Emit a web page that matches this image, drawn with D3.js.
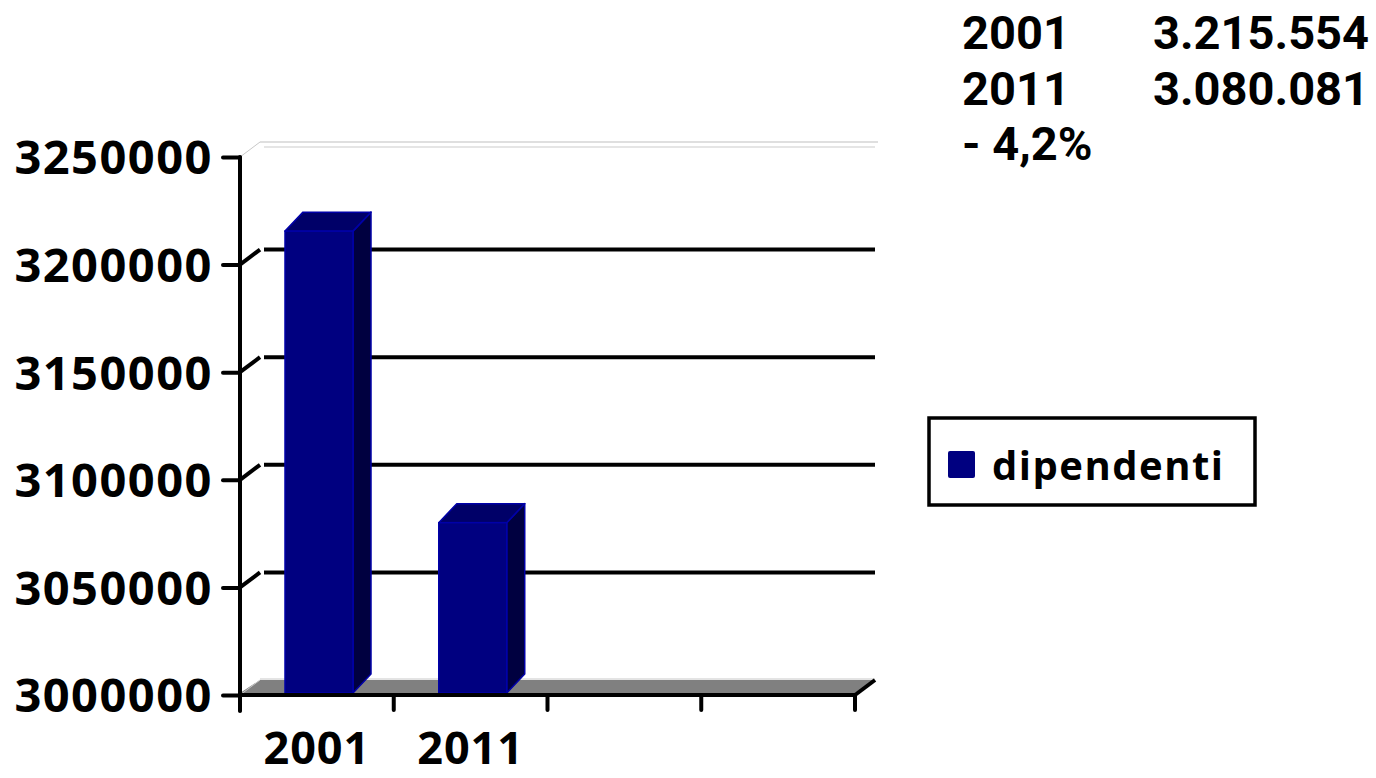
<!DOCTYPE html>
<html>
<head>
<meta charset="utf-8">
<script src="https://cdn.jsdelivr.net/npm/d3@7"></script>
<style>
  body { margin: 0; background: #fff; }
  svg text { font-family: "Open Sans", sans-serif; font-weight: 700; }
</style>
</head>
<body>
<div id="viz"></div>
<script>
// data
const categories = ['2001', '2011', '', ''];
const values = [3215554, 3080081];
const seriesName = 'dipendenti';
const yTicks = [3000000, 3050000, 3100000, 3150000, 3200000, 3250000];
const noteRows = [['2001', '3.215.554'], ['2011', '3.080.081'], ['- 4,2%', '']];

const W = 1376, H = 778;
const DX = 20, DY = -15;       // depth of the walls
const BDX = 18, BDY = -19;     // depth of the bars
const NAVY = '#000080';

const svg = d3.select('#viz').append('svg')
  .attr('width', W)
  .attr('height', H);

const x = d3.scaleBand()
  .domain(d3.range(categories.length))
  .range([240, 855])
  .paddingInner(0)
  .paddingOuter(0);

const y = d3.scaleLinear()
  .domain([yTicks[0], yTicks[yTicks.length - 1]])
  .range([695, 157]);

const x0 = x.range()[0], x1 = x.range()[1];

// floor
svg.append('polygon')
  .attr('points', [[x0, y(yTicks[0]) - 2], [x1, y(yTicks[0]) - 2], [x1 + DX, y(yTicks[0]) + DY], [x0 + DX, y(yTicks[0]) + DY]].join(' '))
  .attr('fill', '#808080');
svg.append('line')
  .attr('x1', x0 + DX).attr('x2', x1 + DX)
  .attr('y1', y(yTicks[0]) + DY - 1).attr('y2', y(yTicks[0]) + DY - 1)
  .attr('stroke', '#c8c8c8').attr('stroke-width', 1);

// back wall top edge
svg.append('line')
  .attr('x1', x0 + DX).attr('x2', x1 + DX + 3)
  .attr('y1', y(yTicks[yTicks.length - 1]) + DY).attr('y2', y(yTicks[yTicks.length - 1]) + DY)
  .attr('stroke', '#d4d4d4').attr('stroke-width', 1.5);
svg.append('line')
  .attr('x1', x0 + DX + 4).attr('x2', x1 + DX)
  .attr('y1', y(yTicks[yTicks.length - 1]) + DY + 5).attr('y2', y(yTicks[yTicks.length - 1]) + DY + 5)
  .attr('stroke', '#dcdcdc').attr('stroke-width', 1.5);

// left wall diagonal edges (top / bottom light)
[yTicks[0], yTicks[yTicks.length - 1]].forEach(v => {
  svg.append('line')
    .attr('x1', x0).attr('y1', y(v))
    .attr('x2', x0 + DX).attr('y2', y(v) + DY)
    .attr('stroke', '#c8c8c8').attr('stroke-width', 1);
});

// gridlines on the back wall + depth ticks
const inner = yTicks.slice(1, -1);
svg.append('g').selectAll('line.grid')
  .data(inner)
  .enter()
  .append('line')
  .attr('class', 'grid')
  .attr('x1', x0 + DX + 4).attr('x2', x1 + DX)
  .attr('y1', d => y(d) + DY).attr('y2', d => y(d) + DY)
  .attr('stroke', '#000').attr('stroke-width', 4);
svg.append('g').selectAll('line.depth')
  .data(inner)
  .enter()
  .append('line')
  .attr('class', 'depth')
  .attr('x1', x0).attr('y1', d => y(d))
  .attr('x2', x0 + DX).attr('y2', d => y(d) + DY)
  .attr('stroke', '#000').attr('stroke-width', 4);

// bars
const bw = 68, boff = 45;
const bars = svg.append('g').selectAll('g.bar')
  .data(values)
  .enter()
  .append('g')
  .attr('class', 'bar');

const base = y(yTicks[0]) - 2;
bars.append('polygon') // side
  .attr('points', (d, i) => {
    const l = x(i) + boff + bw, t = y(d);
    return [[l, t], [l + BDX, t + BDY], [l + BDX, base + BDY], [l, base]].join(' ');
  })
  .attr('fill', '#000040')
  .attr('stroke', '#0000a8').attr('stroke-width', 1.5).attr('stroke-linejoin', 'round');
bars.append('polygon') // top
  .attr('points', (d, i) => {
    const l = x(i) + boff, t = y(d);
    return [[l, t], [l + bw, t], [l + bw + BDX, t + BDY], [l + BDX, t + BDY]].join(' ');
  })
  .attr('fill', '#000068')
  .attr('stroke', '#0000a8').attr('stroke-width', 1.5).attr('stroke-linejoin', 'round');
bars.append('rect') // front
  .attr('x', (d, i) => x(i) + boff)
  .attr('y', d => y(d))
  .attr('width', bw)
  .attr('height', d => base - y(d))
  .attr('fill', NAVY)
  .attr('stroke', '#0000a8').attr('stroke-width', 1.5);

// y axis
const yAxis = svg.append('g')
  .attr('transform', `translate(${x0},0)`)
  .call(d3.axisLeft(y).tickValues(yTicks).tickFormat(d3.format('d')).tickSize(17).tickPadding(10));
yAxis.select('.domain').attr('d', `M-0,${y(yTicks[yTicks.length - 1])}V${y(yTicks[0]) + 16}`);
yAxis.selectAll('path, line').attr('stroke', '#000').attr('stroke-width', 4).attr('stroke-linecap', 'round');
yAxis.selectAll('text')
  .attr('fill', '#000')
  .style('font-size', '47px')
  .style('letter-spacing', '1.5px')
  .attr('dy', '0.36em');

// x axis (ticks on category edges)
const edges = x.domain().map(i => x(i)).concat([x1]);
const xg = svg.append('g');
xg.append('line')
  .attr('x1', x0).attr('x2', x1)
  .attr('y1', y(yTicks[0])).attr('y2', y(yTicks[0]))
  .attr('stroke', '#000').attr('stroke-width', 4);
xg.append('line')
  .attr('x1', x1).attr('y1', y(yTicks[0]))
  .attr('x2', x1 + DX).attr('y2', y(yTicks[0]) + DY)
  .attr('stroke', '#000').attr('stroke-width', 4);
xg.selectAll('line.tick')
  .data(edges)
  .enter()
  .append('line')
  .attr('class', 'tick')
  .attr('x1', d => d).attr('x2', d => d)
  .attr('y1', y(yTicks[0])).attr('y2', y(yTicks[0]) + 15)
  .attr('stroke', '#000').attr('stroke-width', 4).attr('stroke-linecap', 'round');
xg.selectAll('text')
  .data(categories)
  .enter()
  .append('text')
  .attr('x', (d, i) => x(i) + x.bandwidth() / 2)
  .attr('y', 764)
  .attr('text-anchor', 'middle')
  .style('font-size', '45px')
  .style('letter-spacing', '1px')
  .text(d => d);

// legend
const lg = svg.append('g').attr('transform', 'translate(929,418)');
lg.append('rect')
  .attr('width', 326).attr('height', 87)
  .attr('fill', '#fff').attr('stroke', '#000').attr('stroke-width', 3.5);
lg.append('rect')
  .attr('x', 19).attr('y', 33).attr('width', 27).attr('height', 27).attr('rx', 2)
  .attr('fill', NAVY);
lg.append('text')
  .attr('x', 63).attr('y', 62)
  .style('font-size', '40px')
  .style('letter-spacing', '1.5px')
  .text(seriesName);

// note in the top right corner
const note = svg.append('g');
noteRows.forEach((r, i) => {
  note.append('text')
    .attr('x', 962).attr('y', 49 + i * 55.5)
    .style('font-family', 'Roboto, sans-serif')
    .style('font-size', '47px')
    .text(r[0]);
  note.append('text')
    .attr('x', 1153).attr('y', 49 + i * 55.5)
    .style('font-family', 'Roboto, sans-serif')
    .style('font-size', '47px')
    .text(r[1]);
});
</script>
</body>
</html>
